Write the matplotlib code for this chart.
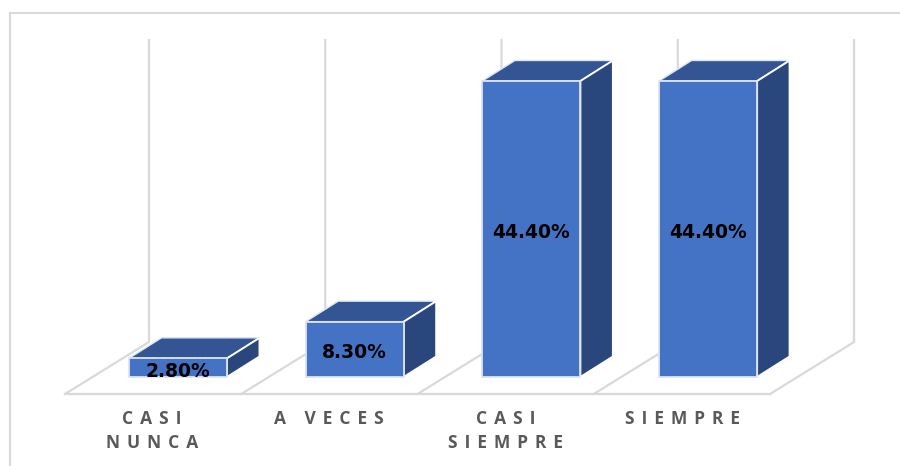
import matplotlib
matplotlib.use("Agg")
import matplotlib.pyplot as plt
from matplotlib.patches import Polygon

categories = ["CASI\nNUNCA", "A VECES", "CASI\nSIEMPRE", "SIEMPRE"]
values = [2.8, 8.3, 44.4, 44.4]
labels = ["2.80%", "8.30%", "44.40%", "44.40%"]

W, H = 900, 466
PX_CAT = 176.7          # px per category
PX_VAL = 6.667          # px per percent
X0, Y0 = 178, 377       # pixel of category 0 / value 0

FRONT = "#4472C4"
TOP = "#335593"
SIDE = "#2A477D"
GRID = "#D9D9D9"
TEXT = "#595959"
THIN = "\u2009"

fig = plt.figure(figsize=(W / 100, H / 100), dpi=100)
ax = fig.add_axes([0, 0, 1, 1])
ax.set_xlim((0 - X0) / PX_CAT, (W - X0) / PX_CAT)
ax.set_ylim((Y0 - H) / PX_VAL, Y0 / PX_VAL)
ax.axis("off")

bar_w = 98 / PX_CAT
dx = 32.5 / PX_CAT      # depth offset
dy = 20.5 / PX_VAL
floor_y = -17 / PX_VAL
wall_dx = 84 / PX_CAT
wall_dy = 52 / PX_VAL
wall_top = (Y0 - 40) / PX_VAL
lw_grid = 1.6

# outer frame
ax.plot([(10 - X0) / PX_CAT] * 2, [(Y0 - H) / PX_VAL, (Y0 - 13) / PX_VAL], color=GRID, lw=1.5)
ax.plot([(10 - X0) / PX_CAT, (W - X0) / PX_CAT], [(Y0 - 13) / PX_VAL] * 2, color=GRID, lw=1.5)

# floor and back wall lines
left = -113 / PX_CAT
edges = [left + i * 0.9975 for i in range(5)]
ax.plot([edges[0], edges[-1]], [floor_y, floor_y], color=GRID, lw=lw_grid)
for e in edges:
    ax.plot([e, e + wall_dx, e + wall_dx],
            [floor_y, floor_y + wall_dy, wall_top], color=GRID, lw=lw_grid)

# bars
for i, (v, lab, cat) in enumerate(zip(values, labels, categories)):
    l, r = i - bar_w / 2, i + bar_w / 2
    ax.add_patch(Polygon([(l, v), (r, v), (r + dx, v + dy), (l + dx, v + dy)],
                         fc=TOP, ec="#DCE4F2", lw=1.0, zorder=3))
    ax.add_patch(Polygon([(r, 0), (r + dx, dy), (r + dx, v + dy), (r, v)],
                         fc=SIDE, ec="white", lw=1.4, zorder=3))
    ax.add_patch(Polygon([(l, 0), (r, 0), (r, v), (l, v)],
                         fc=FRONT, ec="#DCE4F2", lw=1.3, zorder=4))
    ax.text(i, v / 2 - 0.5 if v > 5 else v / 2 - 0.6, lab, ha="center", va="center",
            fontsize=13.5, fontweight="bold", color="black",
            family=["DejaVu Sans"], zorder=5)
    spaced = "\n".join((THIN * 2).join(line) for line in cat.split("\n"))
    ax.text(i - 26 / PX_CAT, (Y0 - 410) / PX_VAL, spaced, ha="center", va="top",
            fontsize=12.5, fontweight="bold", color=TEXT, linespacing=1.45,
            family=["Open Sans", "DejaVu Sans"], zorder=5)

fig.savefig("out.png", dpi=100, facecolor="white")
